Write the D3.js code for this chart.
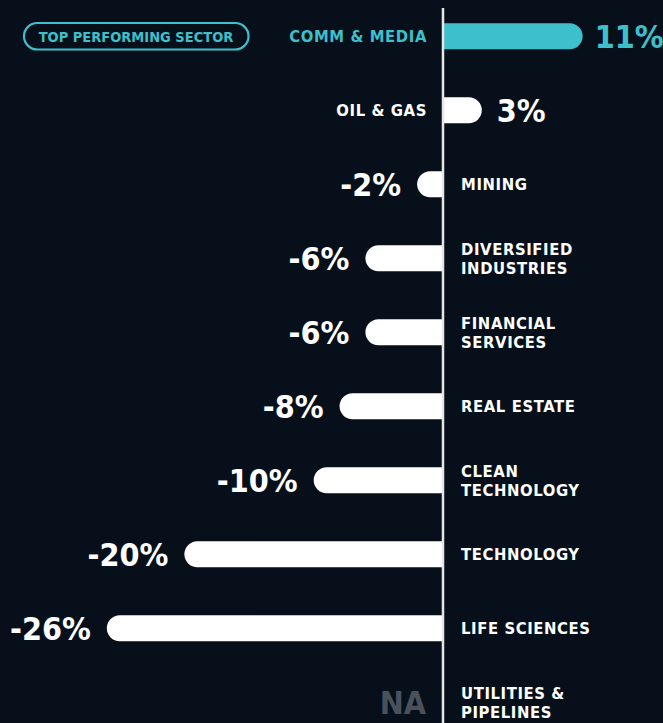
<!DOCTYPE html>
<html>
<head>
<meta charset="utf-8">
<script src="https://cdn.jsdelivr.net/npm/d3@7"></script>
<style>
  html, body { margin: 0; padding: 0; background: #07101a; }
  svg { display: block; }
  text { font-family: "DejaVu Sans Condensed", "DejaVu Sans", sans-serif; font-weight: bold; }
</style>
</head>
<body>
<svg id="chart" width="663" height="723"></svg>
<script>
// ---- data ----
const categories = [
  "COMM & MEDIA", "OIL & GAS", "MINING", "DIVERSIFIED INDUSTRIES",
  "FINANCIAL SERVICES", "REAL ESTATE", "CLEAN TECHNOLOGY",
  "TECHNOLOGY", "LIFE SCIENCES", "UTILITIES & PIPELINES"
];
const labelLines = [
  ["COMM & MEDIA"], ["OIL & GAS"], ["MINING"], ["DIVERSIFIED", "INDUSTRIES"],
  ["FINANCIAL", "SERVICES"], ["REAL ESTATE"], ["CLEAN", "TECHNOLOGY"],
  ["TECHNOLOGY"], ["LIFE SCIENCES"], ["UTILITIES &", "PIPELINES"]
];
const values = [10.8, 3, -2, -6, -6, -8, -10, -20, -26, null];
const valueLabels = ["11%", "3%", "-2%", "-6%", "-6%", "-8%", "-10%", "-20%", "-26%", "NA"];
const topIndex = 0;
const badgeText = "TOP PERFORMING SECTOR";

// ---- styles ----
const TEAL = "#3dc0cb";
const WHITE = "#ffffff";
const GRAY = "#4a515b";

const svg = d3.select("#chart");
const x = d3.scaleLinear().domain([-30, 15]).range([55.1, 636.95]);
const y = d3.scalePoint().domain(categories).range([36.3, 702.3]);
const barH = 26, r = 13;
const x0 = x(0);

const data = categories.map((c, i) => ({
  cat: c, lines: labelLines[i], v: values[i], label: valueLabels[i], top: i === topIndex
}));

// bars: rounded outer end, flat at axis
function barPath(d) {
  const cy = y(d.cat), t = cy - barH / 2, b = cy + barH / 2;
  const xe = x(d.v);
  if (d.v >= 0) {
    return `M${x0},${t} L${xe - r},${t} A${r},${r} 0 0 1 ${xe - r},${b} L${x0},${b} Z`;
  } else {
    return `M${x0},${t} L${xe + r},${t} A${r},${r} 0 0 0 ${xe + r},${b} L${x0},${b} Z`;
  }
}

svg.append("g").selectAll("path")
  .data(data.filter(d => d.v !== null))
  .join("path")
  .attr("d", barPath)
  .attr("fill", d => d.top ? TEAL : WHITE);

// axis line
svg.append("line")
  .attr("x1", x0).attr("x2", x0)
  .attr("y1", 8).attr("y2", 723)
  .attr("stroke", "#e6e6e6").attr("stroke-width", 2.5);

// value labels
svg.append("g").selectAll("text")
  .data(data)
  .join("text")
  .attr("x", d => d.v === null ? x0 - 17 : (d.v >= 0 ? x(d.v) + (d.top ? 12 : 15) : x(d.v) - 16))
  .attr("y", d => y(d.cat) + 12)
  .attr("text-anchor", d => (d.v === null || d.v < 0) ? "end" : "start")
  .attr("font-size", 32)
  .attr("fill", d => d.v === null ? GRAY : (d.top ? TEAL : WHITE))
  .text(d => d.label);

// category labels
const cl = svg.append("g").selectAll("text")
  .data(data)
  .join("text")
  .attr("x", d => (d.v !== null && d.v >= 0) ? x0 - 16 : x0 + 18)
  .attr("text-anchor", d => (d.v !== null && d.v >= 0) ? "end" : "start")
  .attr("font-size", 16.5)
  .attr("letter-spacing", 0.6)
  .attr("fill", d => d.top ? TEAL : WHITE);
cl.each(function(d) {
  const cy = y(d.cat);
  const sel = d3.select(this);
  if (d.lines.length === 1) {
    sel.append("tspan").attr("x", sel.attr("x")).attr("y", cy + 6).text(d.lines[0]);
  } else {
    d.lines.forEach((ln, k) => {
      sel.append("tspan").attr("x", sel.attr("x")).attr("y", cy - 3.2 + k * 18.8).text(ln);
    });
  }
});

// badge
const badge = svg.append("g");
badge.append("rect")
  .attr("x", 24).attr("y", 23).attr("width", 224.5).attr("height", 26.5)
  .attr("rx", 13.25).attr("ry", 13.25)
  .attr("fill", "none").attr("stroke", TEAL).attr("stroke-width", 2.2);
badge.append("text")
  .attr("x", 136).attr("y", 41.7)
  .attr("text-anchor", "middle")
  .attr("font-size", 14.5)
  .attr("letter-spacing", 0)
  .attr("fill", TEAL)
  .text(badgeText);
</script>
</body>
</html>
